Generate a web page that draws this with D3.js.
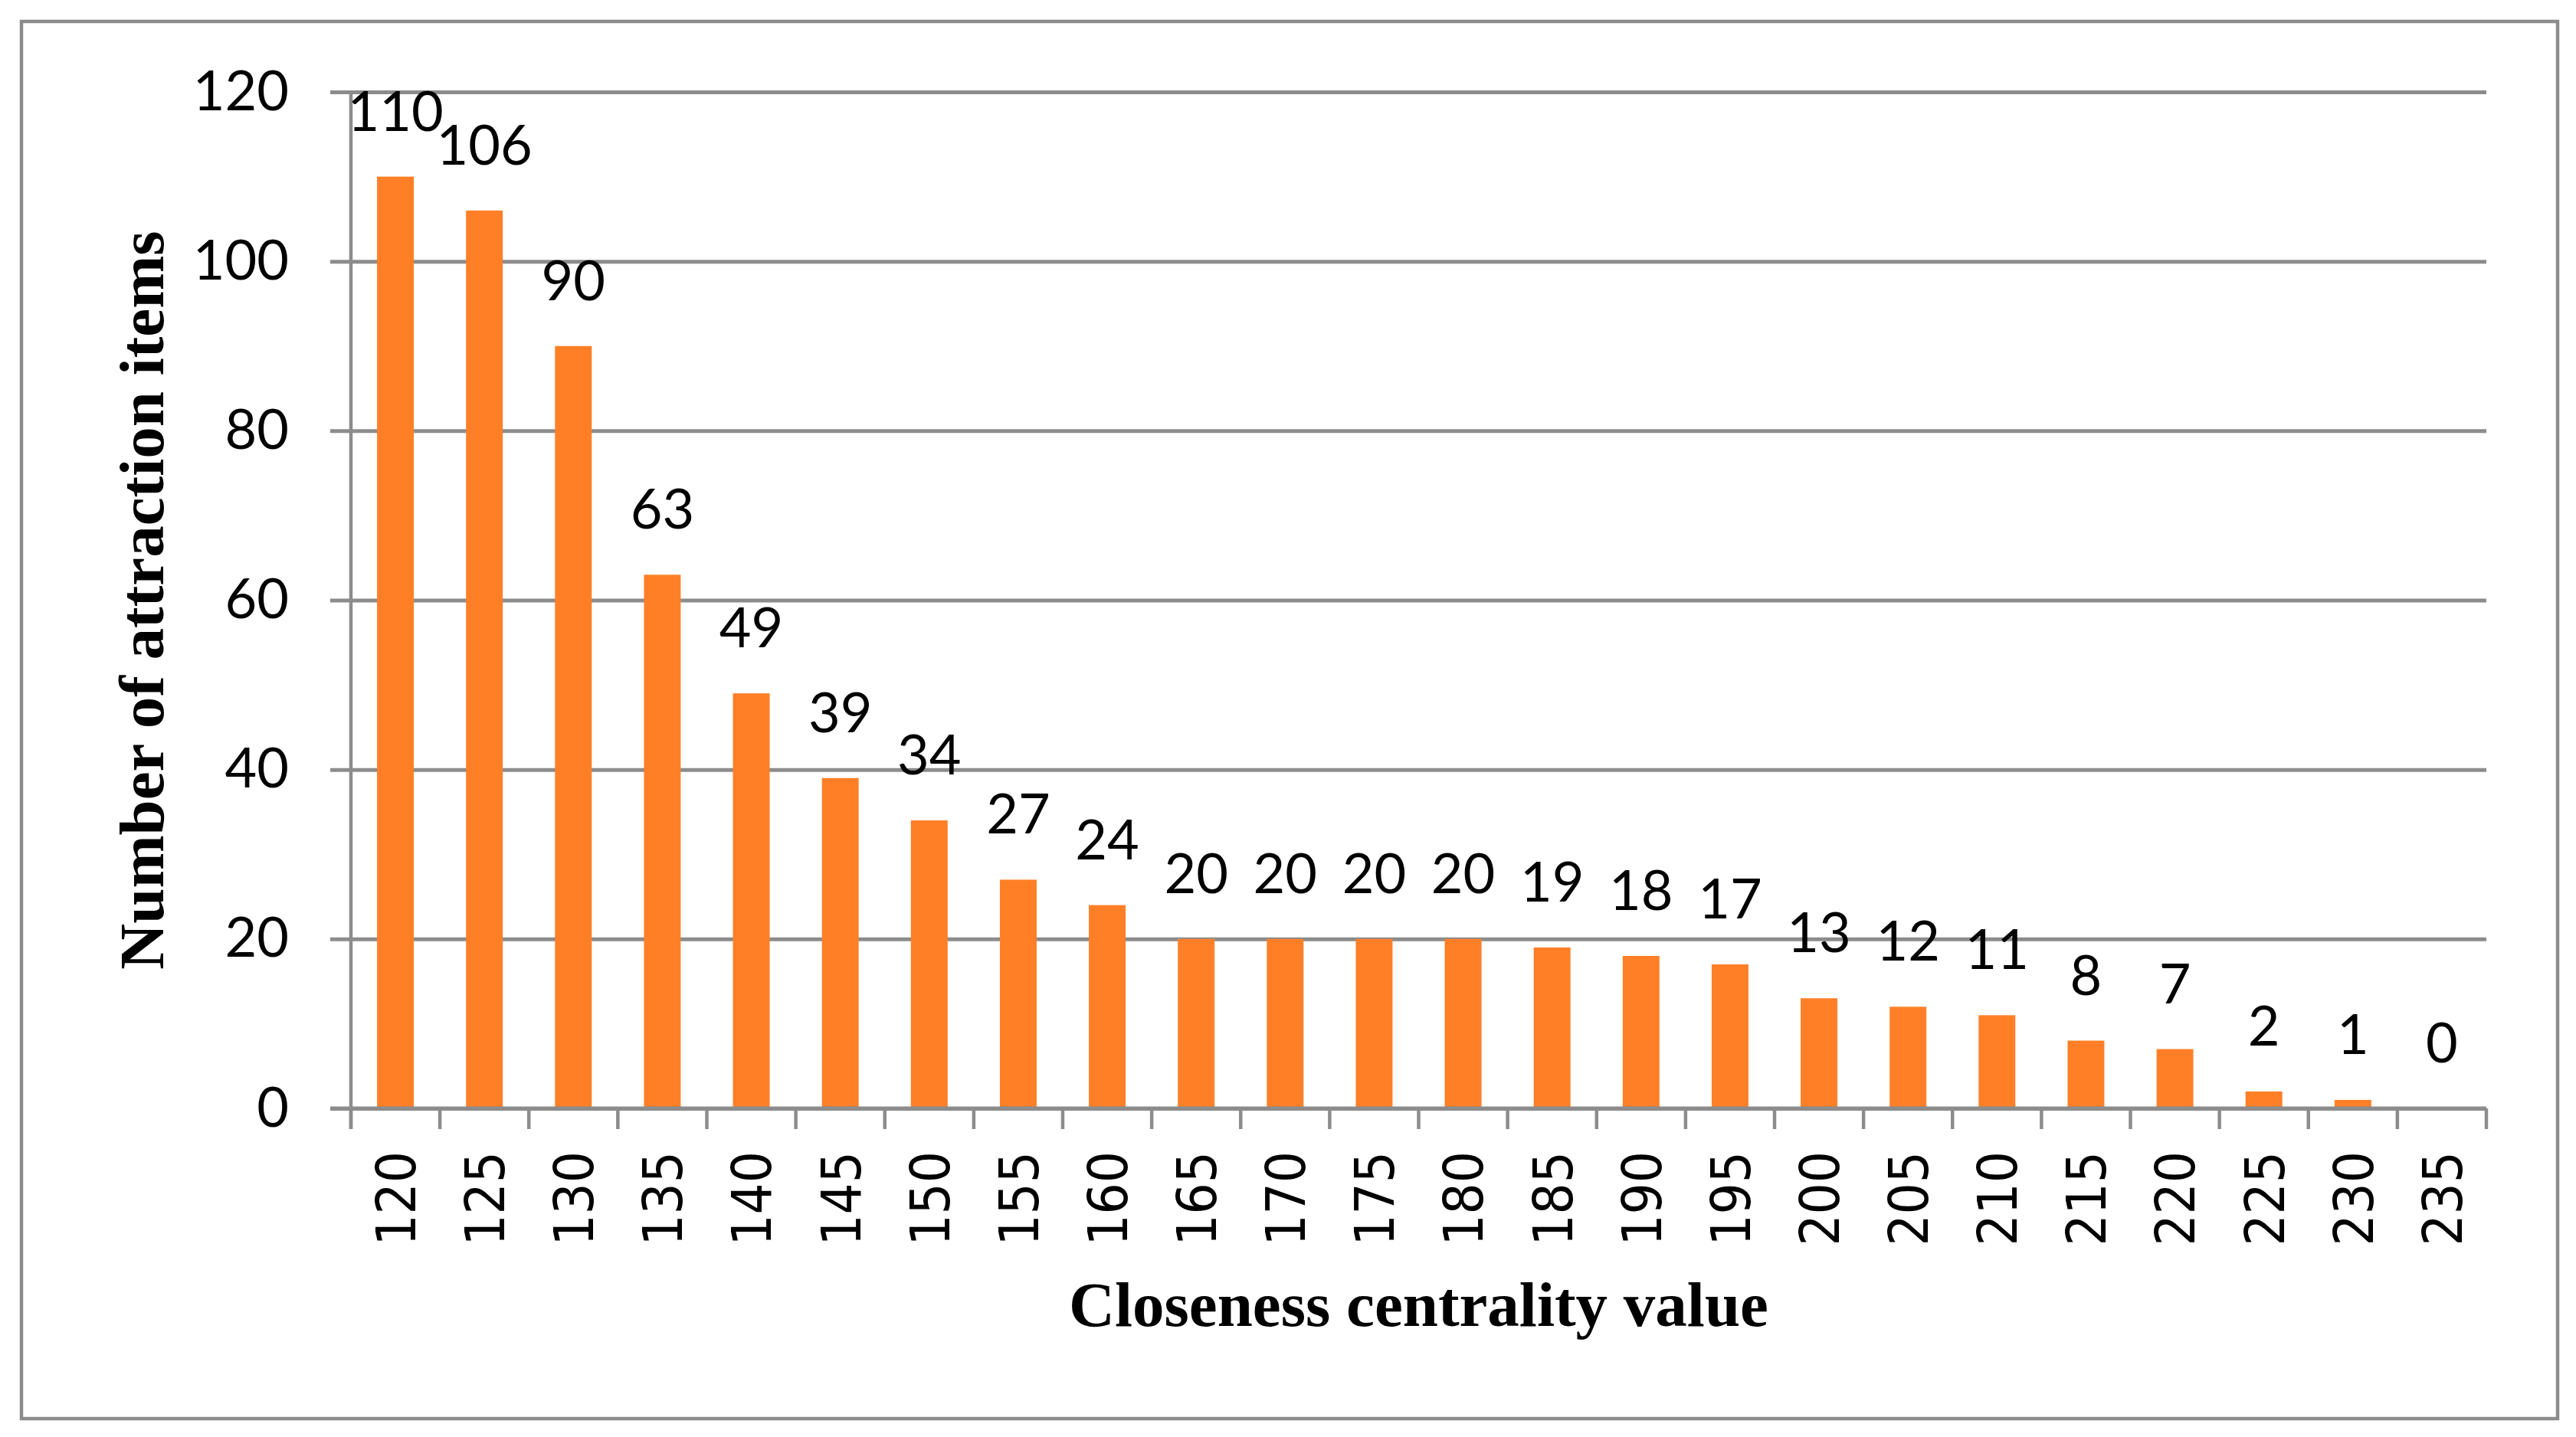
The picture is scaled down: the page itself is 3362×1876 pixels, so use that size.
<!DOCTYPE html>
<html>
<head>
<meta charset="utf-8">
<script src="https://cdn.jsdelivr.net/npm/d3@7"></script>
<style>
  body { margin: 0; background: #fff; }
</style>
</head>
<body>
<div id="chart"></div>
<script>
// Data
var categories = ["120", "125", "130", "135", "140", "145", "150", "155", "160", "165", "170", "175",
  "180", "185", "190", "195", "200", "205", "210", "215", "220", "225", "230", "235"];
var counts = [110, 106, 90, 63, 49, 39, 34, 27, 24, 20, 20, 20, 20, 19, 18, 17, 13, 12, 11, 8, 7, 2, 1, 0];
var yTicks = [0, 20, 40, 60, 80, 100, 120];

var chartWidth = 3362;
var chartHeight = 1876;
// plot box (named so it doesn't clash with window.top)
var plotLeft = 458, plotRight = 3245, plotTop = 120, plotBottom = 1447;
var grey = "#8c8c8c";
var orange = "#ff7f27";
var labelFont = "Lato, 'Liberation Sans', sans-serif";

var svg = d3.select("#chart")
  .append("svg")
  .attr("width", chartWidth)
  .attr("height", chartHeight);

// outer frame
svg.append("rect")
  .attr("x", 28).attr("y", 28)
  .attr("width", 3310).attr("height", 1824)
  .attr("fill", "#fff")
  .attr("stroke", grey)
  .attr("stroke-width", 4.5);

// Scales
const x = d3.scaleBand()
  .domain(categories)
  .range([plotLeft, plotRight])
  .paddingInner(0.587)
  .paddingOuter(0.2935);

const xCell = d3.scaleBand()
  .domain(categories)
  .range([plotLeft, plotRight]);

const y = d3.scaleLinear()
  .domain([0, 120])
  .range([plotBottom, plotTop]);

// y axis with gridlines
const yAxis = svg.append("g")
  .attr("transform", "translate(431,0)")
  .call(d3.axisLeft(y)
    .tickValues(yTicks)
    .tickSizeInner(-(plotRight - 431))
    .tickSizeOuter(0)
    .tickPadding(54));

yAxis.select(".domain").remove();
yAxis.selectAll("line")
  .attr("stroke", grey)
  .attr("stroke-width", 5);
yAxis.selectAll("text")
  .attr("font-family", labelFont)
  .attr("font-size", 72)
  .attr("fill", "#000");

// bars
svg.append("g")
  .selectAll("rect")
  .data(counts)
  .enter()
  .append("rect")
  .attr("x", (d, i) => x(categories[i]))
  .attr("y", d => y(d))
  .attr("width", x.bandwidth())
  .attr("height", d => y(0) - y(d))
  .attr("fill", orange);

// vertical axis line
svg.append("line")
  .attr("x1", plotLeft).attr("x2", plotLeft)
  .attr("y1", plotTop).attr("y2", plotBottom + 27)
  .attr("stroke", grey)
  .attr("stroke-width", 4.5);

// baseline over the bars
svg.append("line")
  .attr("x1", 431).attr("x2", plotRight)
  .attr("y1", plotBottom).attr("y2", plotBottom)
  .attr("stroke", grey)
  .attr("stroke-width", 5);

// x ticks at cell boundaries
const bounds = categories.map(c => xCell(c)).concat([plotRight]);
svg.append("g")
  .selectAll("line")
  .data(bounds)
  .enter()
  .append("line")
  .attr("x1", d => d).attr("x2", d => d)
  .attr("y1", plotBottom).attr("y2", plotBottom + 27)
  .attr("stroke", grey)
  .attr("stroke-width", 4.5);

// x tick labels (rotated)
svg.append("g")
  .selectAll("text")
  .data(categories)
  .enter()
  .append("text")
  .attr("transform", d => "translate(" + (xCell(d) + xCell.bandwidth() / 2) + "," + 1503 + ") rotate(-90)")
  .attr("text-anchor", "end")
  .attr("dy", "0.36em")
  .attr("font-family", "'DejaVu Sans Condensed', 'DejaVu Sans', sans-serif")
  .attr("font-size", 72)
  .attr("fill", "#000")
  .text(d => d);

// value labels
svg.append("g")
  .selectAll("text")
  .data(counts)
  .enter()
  .append("text")
  .attr("x", (d, i) => x(categories[i]) + x.bandwidth() / 2)
  .attr("y", d => y(d) - 60)
  .attr("text-anchor", "middle")
  .attr("font-family", labelFont)
  .attr("font-size", 72)
  .attr("fill", "#000")
  .text(d => d);

// axis titles
svg.append("text")
  .attr("x", (plotLeft + plotRight) / 2)
  .attr("y", 1731)
  .attr("text-anchor", "middle")
  .attr("font-family", "'Liberation Serif', 'Times New Roman', serif")
  .attr("font-weight", "bold")
  .attr("font-size", 83)
  .text("Closeness centrality value");

svg.append("text")
  .attr("transform", "translate(213," + (plotTop + plotBottom) / 2 + ") rotate(-90)")
  .attr("text-anchor", "middle")
  .attr("font-family", "'Liberation Serif', 'Times New Roman', serif")
  .attr("font-weight", "bold")
  .attr("font-size", 83)
  .text("Number of attraction items");
</script>
</body>
</html>
